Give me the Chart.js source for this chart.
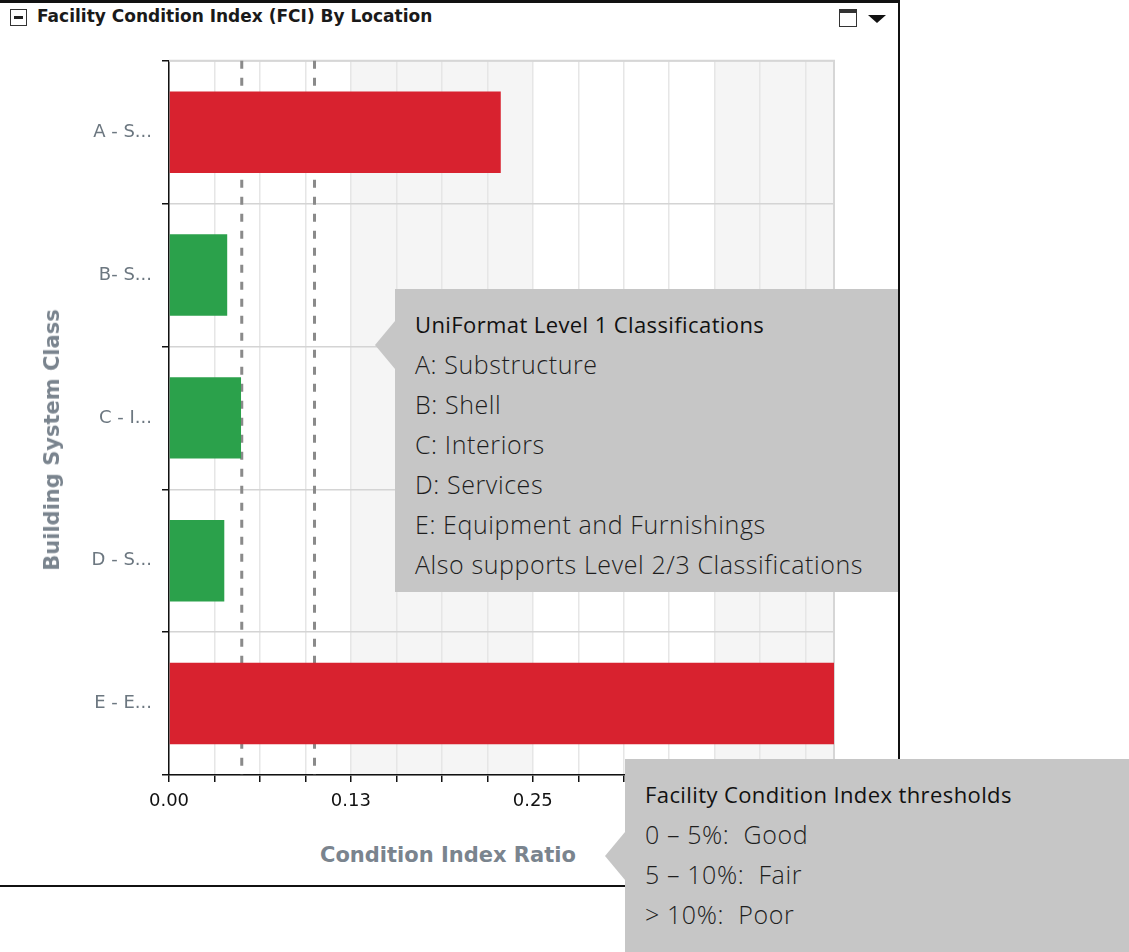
<!DOCTYPE html>
<html>
<head>
<meta charset="utf-8">
<script src="https://cdn.jsdelivr.net/npm/chart.js@4.4.1/dist/chart.umd.min.js"></script>
<style>
  body { margin: 0; background: #fff; width: 1129px; height: 952px; overflow: hidden; position: relative; font-family: "DejaVu Sans", Verdana, sans-serif; }
  #panel { position: absolute; left: -2px; top: 0; width: 898px; height: 882px; border: 2px solid #111; border-top-width: 3px; }
  #head { position: absolute; left: 37px; top: 6px; font-weight: bold; font-size: 17px; color: #1a1a1a; white-space: nowrap; }
  .ico-min { position: absolute; left: 10px; top: 9px; width: 15px; height: 15px; border: 1.5px solid #333; }
  .ico-min:after { content: ""; position: absolute; left: 3px; top: 6px; width: 9px; height: 3px; background: #222; }
  .ico-win { position: absolute; left: 839px; top: 9px; width: 16px; height: 13px; border: 1.5px solid #333; border-top-width: 4px; }
  .ico-tri { position: absolute; left: 868px; top: 15px; width: 0; height: 0; border-left: 9px solid transparent; border-right: 9px solid transparent; border-top: 8px solid #111; }
  #wrap { position: absolute; left: 0; top: 40px; width: 898px; height: 800px; }
  .axt { position: absolute; font-weight: bold; font-size: 21px; color: #7a848e; white-space: nowrap; }
  .call { position: absolute; background: #c6c6c6; font-family: "Open Sans", "Noto Sans", sans-serif; color: #1e1e1e; }
  .call:before { content: ""; position: absolute; left: -20px; width: 20px; background: #c6c6c6; clip-path: polygon(100% 0, 0 50%, 100% 100%); }
  .call div { position: absolute; left: 20px; white-space: pre; font-size: 25px; letter-spacing: 0.6px; font-weight: 300; line-height: 40px; }
  .call div.h { font-size: 22px; letter-spacing: 0.4px; font-weight: 400; color: #111; }
</style>
</head>
<body>
<div id="panel"></div>
<div class="ico-min"></div>
<div id="head">Facility Condition Index (FCI) By Location</div>
<div class="ico-win"></div>
<div class="ico-tri"></div>
<div id="wrap"><canvas id="fci"></canvas></div>
<div class="axt" style="left:320px; top:843px;">Condition Index Ratio</div>
<div class="axt" style="left:52px; top:440px; transform: translate(-50%,-50%) rotate(-90deg);">Building System Class</div>

<div class="call" id="c1" style="left:395px; top:289px; width:503px; height:303px;"></div>
<div class="call" id="c2" style="left:625px; top:759px; width:504px; height:193px;"></div>

<script>
const categories = ['A - S...', 'B- S...', 'C - I...', 'D - S...', 'E - E...'];
const fciValues = [0.228, 0.040, 0.0495, 0.038, 0.457];
const xTickLabels = ['0.00', '0.13', '0.25', '0.38'];
const thresholds = [0.05, 0.10];
const xMax = 0.457;
const gridStep = 0.03125;
const bandStep = 0.125;

const note1 = ['UniFormat Level 1 Classifications', 'A: Substructure', 'B: Shell', 'C: Interiors',
  'D: Services', 'E: Equipment and Furnishings', 'Also supports Level 2/3 Classifications'];
const note2 = ['Facility Condition Index thresholds', '0 \u2013 5%:  Good', '5 \u2013 10%:  Fair', '> 10%:  Poor'];

function fillNote(id, lines, arrowTop) {
  const el = document.getElementById(id);
  lines.forEach(function (t, i) {
    const d = document.createElement('div');
    d.textContent = t;
    if (i === 0) d.className = 'h';
    d.style.top = (15 + i * 40) + 'px';
    el.appendChild(d);
  });
  const st = document.createElement('style');
  st.textContent = '#' + id + ':before{top:' + arrowTop + 'px;height:48px;}';
  document.head.appendChild(st);
}
fillNote('c1', note1, 32);
fillNote('c2', note2, 73);

// alternating background bands + plot outline + dashed threshold lines
const plotDecor = {
  id: 'plotDecor',
  beforeDraw(chart) {
    const { ctx, chartArea: a, scales: { x } } = chart;
    ctx.save();
    for (let v = 0, i = 0; v < xMax; v += bandStep, i++) {
      if (i % 2 === 1) {
        const x0 = x.getPixelForValue(v);
        const x1 = x.getPixelForValue(Math.min(v + bandStep, xMax));
        ctx.fillStyle = '#f5f5f5';
        ctx.fillRect(x0, a.top, x1 - x0, a.bottom - a.top);
      }
    }
    ctx.restore();
  },
  beforeDatasetsDraw(chart) {
    const { ctx, chartArea: a, scales: { x } } = chart;
    ctx.save();
    ctx.strokeStyle = '#d6d6d6';
    ctx.lineWidth = 2;
    ctx.beginPath();
    ctx.moveTo(a.left, a.top);
    ctx.lineTo(a.right, a.top);
    ctx.lineTo(a.right, a.bottom);
    ctx.stroke();
    ctx.strokeStyle = '#8a8a8a';
    ctx.lineWidth = 3;
    ctx.setLineDash([8, 9]);
    thresholds.forEach(function (t) {
      const px = x.getPixelForValue(t);
      ctx.beginPath();
      ctx.moveTo(px, a.top);
      ctx.lineTo(px, a.bottom);
      ctx.stroke();
    });
    ctx.restore();
  }
};

new Chart(document.getElementById('fci').getContext('2d'), {
  type: 'bar',
  data: {
    labels: categories,
    datasets: [{
      label: 'FCI',
      data: fciValues,
      backgroundColor: function (c) { return c.raw > thresholds[1] ? '#d8222f' : '#2ba14b'; },
      borderWidth: 0,
      categoryPercentage: 1,
      barPercentage: 0.57
    }]
  },
  options: {
    indexAxis: 'y',
    responsive: true,
    maintainAspectRatio: false,
    animation: false,
    layout: { padding: { top: 20, right: 64, left: 0, bottom: 0 } },
    plugins: { legend: { display: false }, tooltip: { enabled: false } },
    scales: {
      x: {
        type: 'linear',
        min: 0,
        max: xMax,
        bounds: 'data',
        afterBuildTicks: function (s) {
          const t = [];
          for (let v = 0; v < xMax; v += gridStep) t.push({ value: v });
          s.ticks = t;
        },
        afterFit: function (s) { s.height = 65; },
        border: { color: '#111', width: 1.5 },
        grid: { color: '#e6e6e6', lineWidth: 1.5, tickColor: '#111', tickLength: 7 },
        ticks: {
          autoSkip: false,
          maxRotation: 0,
          padding: 9,
          color: '#111',
          font: { family: 'DejaVu Sans', size: 18 },
          callback: function (v) {
            const k = v / bandStep;
            return Math.abs(k - Math.round(k)) < 1e-6 ? xTickLabels[Math.round(k)] : '';
          }
        }
      },
      y: {
        afterFit: function (s) { s.width = 169; },
        border: { color: '#111', width: 1.5 },
        grid: { color: '#d4d4d4', lineWidth: 1.5, tickColor: '#111', tickLength: 7, offset: true },
        ticks: {
          padding: 10,
          color: '#6c7780',
          font: { family: 'DejaVu Sans', size: 18 }
        }
      }
    }
  },
  plugins: [plotDecor]
});
</script>
</body>
</html>
